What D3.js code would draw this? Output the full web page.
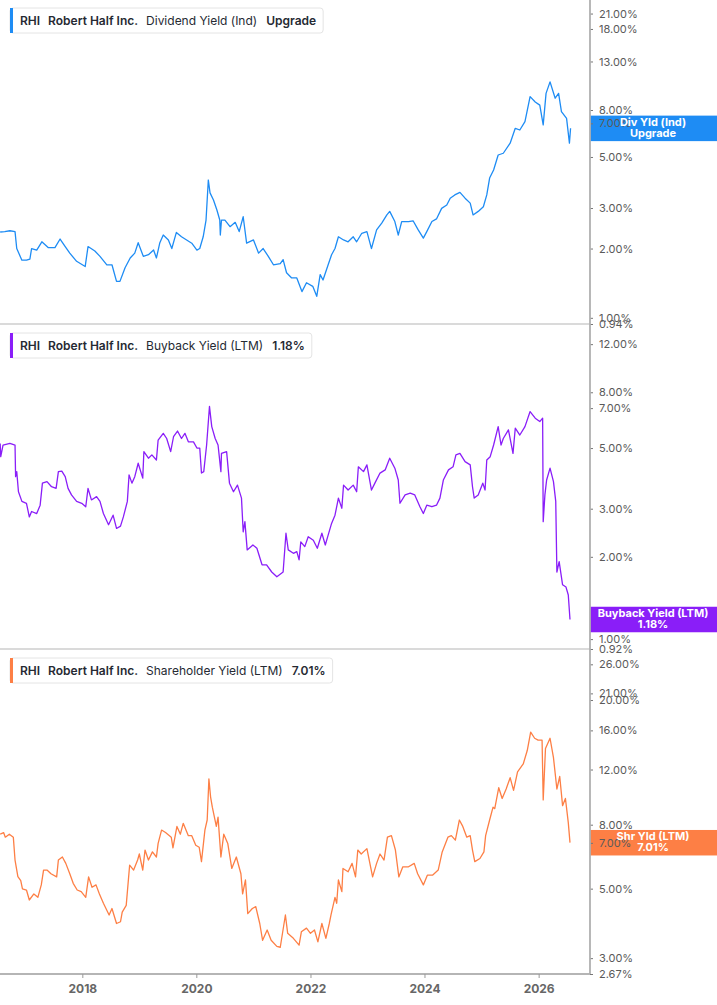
<!DOCTYPE html>
<html lang="en">
<head>
<meta charset="UTF-8">
<title>RHI yields</title>
<script src="https://d3js.org/d3.v7.min.js"></script>
<style>
  body { margin: 0; background: #fff; }
  text { font-family: Inter, "Noto Sans", sans-serif; }
</style>
</head>
<body>
<script>
const width = 717, height = 1005;
const axisX = 590;

const ticker = "RHI";
const company = "Robert Half Inc.";

// dividend yield (indicated), % — dates as decimal years
const divYears = [2016.56,2016.64,2016.73,2016.82,2016.85,2016.94,2017.02,2017.08,2017.11,2017.20,2017.29,2017.40,2017.52,2017.61,2017.70,2017.78,2017.90,2018.05,2018.10,2018.22,2018.31,2018.43,2018.52,2018.60,2018.66,2018.75,2018.84,2018.92,2018.98,2019.07,2019.16,2019.25,2019.30,2019.36,2019.42,2019.51,2019.57,2019.65,2019.74,2019.83,2019.92,2020.01,2020.06,2020.12,2020.17,2020.21,2020.24,2020.30,2020.36,2020.41,2020.42,2020.44,2020.50,2020.59,2020.68,2020.75,2020.82,2020.88,2021.00,2021.09,2021.17,2021.26,2021.35,2021.47,2021.52,2021.58,2021.67,2021.76,2021.85,2021.93,2022.04,2022.11,2022.17,2022.22,2022.31,2022.37,2022.43,2022.49,2022.58,2022.66,2022.75,2022.81,2022.90,2022.99,2023.07,2023.16,2023.25,2023.34,2023.39,2023.48,2023.54,2023.60,2023.72,2023.80,2023.89,2023.98,2024.04,2024.13,2024.21,2024.30,2024.39,2024.45,2024.53,2024.62,2024.71,2024.80,2024.85,2024.94,2025.03,2025.09,2025.14,2025.21,2025.29,2025.38,2025.50,2025.59,2025.67,2025.76,2025.85,2025.94,2026.02,2026.08,2026.13,2026.20,2026.29,2026.35,2026.40,2026.49,2026.54,2026.56];
const divValues = [2.36,2.37,2.39,2.37,2.0,1.78,1.78,1.80,2.0,1.97,2.14,2.02,2.02,2.2,2.04,1.91,1.76,1.67,2.04,1.95,1.85,1.70,1.70,1.44,1.44,1.65,1.82,1.91,2.12,1.85,1.88,1.97,1.82,2.12,2.29,2.18,2.0,2.35,2.25,2.18,2.11,1.97,2.0,2.25,2.66,3.97,3.49,3.25,2.94,2.66,2.29,2.66,2.66,2.49,2.6,2.37,2.75,2.11,2.18,1.91,2.0,1.85,1.70,1.72,1.79,1.57,1.49,1.49,1.30,1.42,1.37,1.24,1.54,1.46,1.70,1.88,2.0,2.25,2.18,2.14,2.25,2.14,2.33,2.37,2.0,2.41,2.58,2.80,2.90,2.62,2.29,2.62,2.62,2.64,2.41,2.22,2.37,2.62,2.69,2.99,3.09,3.31,3.42,3.51,3.31,3.15,2.80,2.90,3.04,3.42,4.05,4.39,5.10,5.19,5.74,6.66,6.55,7.12,9.15,8.67,8.4,6.89,9.45,10.6,9.0,9.45,7.87,7.36,5.74,6.66];
const divTicks = [0.94,1,2,3,5,7,8,13,18,21];

// buyback yield (LTM), %
const buyYears = [2016.56,2016.57,2016.61,2016.73,2016.82,2016.83,2016.85,2016.88,2016.94,2017.02,2017.07,2017.11,2017.20,2017.26,2017.30,2017.38,2017.46,2017.54,2017.58,2017.64,2017.70,2017.75,2017.81,2017.90,2017.99,2018.06,2018.10,2018.16,2018.25,2018.31,2018.37,2018.46,2018.54,2018.60,2018.67,2018.72,2018.79,2018.82,2018.87,2018.92,2018.98,2019.06,2019.08,2019.16,2019.22,2019.30,2019.33,2019.42,2019.48,2019.55,2019.60,2019.67,2019.74,2019.80,2019.86,2019.95,2020.01,2020.06,2020.09,2020.13,2020.18,2020.23,2020.27,2020.33,2020.38,2020.43,2020.44,2020.53,2020.58,2020.65,2020.72,2020.79,2020.82,2020.85,2020.89,2020.99,2021.06,2021.15,2021.23,2021.32,2021.41,2021.52,2021.57,2021.61,2021.70,2021.76,2021.80,2021.83,2021.90,2021.96,2022.05,2022.12,2022.20,2022.26,2022.31,2022.37,2022.43,2022.49,2022.55,2022.58,2022.66,2022.75,2022.81,2022.84,2022.93,2022.99,2023.07,2023.13,2023.22,2023.31,2023.39,2023.48,2023.54,2023.57,2023.66,2023.75,2023.83,2023.92,2023.98,2024.04,2024.13,2024.21,2024.27,2024.33,2024.42,2024.50,2024.55,2024.62,2024.71,2024.80,2024.84,2024.87,2024.94,2025.02,2025.06,2025.09,2025.15,2025.21,2025.29,2025.34,2025.38,2025.47,2025.55,2025.59,2025.67,2025.76,2025.85,2025.94,2026.02,2026.07,2026.08,2026.11,2026.14,2026.20,2026.26,2026.30,2026.32,2026.36,2026.42,2026.48,2026.52,2026.55];
const buyValues = [5.2,4.65,5.13,5.2,5.13,3.93,4.1,3.46,3.19,3.14,2.80,2.93,2.88,3.09,3.72,3.77,3.61,3.56,4.1,4.12,3.93,3.56,3.37,3.19,3.14,3.05,3.56,3.23,3.32,3.19,2.88,2.62,2.84,2.54,2.59,2.80,3.19,3.99,3.72,3.93,4.40,3.88,4.85,4.59,4.72,4.52,5.35,5.66,5.42,4.85,5.50,5.77,5.42,5.66,5.27,5.27,5.0,5.0,4.05,4.1,5.13,7.1,5.99,5.42,5.13,4.1,4.78,4.85,3.72,3.46,3.66,3.28,2.47,2.69,2.12,2.21,2.15,1.87,1.87,1.76,1.69,1.76,2.44,2.12,2.06,2.09,1.95,2.27,2.18,2.37,2.30,2.15,2.44,2.21,2.40,2.65,2.84,3.28,3.01,3.66,3.51,3.66,3.46,4.27,4.10,4.34,3.51,3.72,4.05,4.16,4.59,4.22,3.82,3.14,3.37,3.42,3.37,3.05,2.88,3.09,3.05,3.09,3.28,3.82,4.16,4.27,4.72,4.78,4.46,4.34,3.61,3.28,3.37,3.72,3.51,4.52,4.65,5.13,5.99,5.13,5.42,5.83,4.78,5.91,5.58,5.99,6.8,6.43,6.25,6.43,2.69,3.37,3.82,4.22,3.77,3.19,1.76,1.92,1.58,1.55,1.45,1.18];
const buyTicks = [0.92,1,2,3,5,7,8,12];

// shareholder yield (LTM), %
const shrYears = [2016.56,2016.62,2016.65,2016.72,2016.79,2016.82,2016.87,2016.92,2016.95,2017.02,2017.07,2017.15,2017.22,2017.28,2017.32,2017.38,2017.45,2017.55,2017.58,2017.65,2017.71,2017.78,2017.84,2017.91,2017.98,2018.06,2018.11,2018.17,2018.24,2018.30,2018.37,2018.47,2018.52,2018.60,2018.67,2018.70,2018.77,2018.83,2018.90,2018.97,2019.00,2019.06,2019.10,2019.16,2019.23,2019.30,2019.33,2019.39,2019.46,2019.56,2019.59,2019.66,2019.72,2019.77,2019.86,2019.92,2019.99,2020.05,2020.09,2020.15,2020.19,2020.22,2020.25,2020.28,2020.35,2020.38,2020.43,2020.48,2020.55,2020.62,2020.70,2020.78,2020.81,2020.86,2020.90,2020.98,2021.04,2021.11,2021.16,2021.24,2021.31,2021.41,2021.47,2021.56,2021.60,2021.70,2021.80,2021.84,2021.93,2022.00,2022.07,2022.13,2022.20,2022.27,2022.33,2022.36,2022.43,2022.46,2022.49,2022.55,2022.57,2022.66,2022.73,2022.79,2022.83,2022.89,2022.99,2023.09,2023.16,2023.22,2023.29,2023.35,2023.42,2023.49,2023.55,2023.62,2023.72,2023.82,2023.88,2023.98,2024.05,2024.14,2024.24,2024.31,2024.41,2024.47,2024.54,2024.61,2024.67,2024.74,2024.80,2024.84,2024.88,2024.97,2025.04,2025.07,2025.14,2025.20,2025.23,2025.30,2025.36,2025.43,2025.50,2025.56,2025.63,2025.73,2025.80,2025.86,2025.93,2025.99,2026.06,2026.08,2026.12,2026.20,2026.26,2026.32,2026.37,2026.42,2026.47,2026.52,2026.55];
const shrValues = [7.46,7.55,7.3,7.46,7.3,6.17,5.46,5.3,4.99,4.95,4.60,4.81,4.69,5.14,5.73,5.73,5.58,5.45,6.17,6.31,6.02,5.58,5.20,4.95,4.89,4.69,5.45,5.05,5.14,4.81,4.49,4.12,4.32,3.87,3.92,4.21,4.42,5.94,5.73,6.17,6.45,5.73,6.64,6.17,6.55,6.31,6.97,7.69,7.55,7.30,6.75,7.90,7.46,8.08,7.38,7.38,6.88,6.78,6.1,7.69,8.28,11.2,9.8,9.1,7.9,8.46,6.31,7.46,6.97,5.80,6.31,5.58,4.81,5.33,4.16,4.32,4.38,3.87,3.42,3.69,3.42,3.27,3.25,4.12,3.60,3.47,3.30,3.64,3.74,3.60,3.69,3.38,3.87,3.47,3.87,4.12,4.69,4.49,5.33,4.89,5.80,5.66,6.02,5.45,6.64,6.45,6.71,5.45,6.02,6.45,6.17,7.30,7.38,6.64,5.45,5.87,5.87,6.02,5.58,5.14,5.52,5.52,5.73,6.55,7.30,7.38,7.14,8.28,7.90,7.30,7.38,6.64,6.10,6.24,6.55,7.38,8.28,9.1,9.0,10.5,9.7,10.4,11.3,10.3,11.8,12.5,13.8,15.8,15.1,14.9,14.9,9.6,14.0,15.1,13.1,10.4,11.4,9.2,9.7,8.12,7.01];
const shrTicks = [2.67,3,5,7,8,12,16,20,21,26];

const panels = [
  { years: divYears, values: divValues, ticks: divTicks, color: "#1e8cf4",
    top: 0, bottom: 324, domain: [0.94, 24.05], legendY: 8,
    name: "Dividend Yield (Ind)", value: "Upgrade", badge: ["Div Yld (Ind)", "Upgrade"] },
  { years: buyYears, values: buyValues, ticks: buyTicks, color: "#8a1ef8",
    top: 325, bottom: 649, domain: [0.92, 14.1], legendY: 333,
    name: "Buyback Yield (LTM)", value: "1.18%", badge: ["Buyback Yield (LTM)", "1.18%"] },
  { years: shrYears, values: shrValues, ticks: shrTicks, color: "#fd7f45",
    top: 649, bottom: 974, domain: [2.67, 29.1], legendY: 658,
    name: "Shareholder Yield (LTM)", value: "7.01%", badge: ["Shr Yld (LTM)", "7.01%"] }
];

const toDate = yr => {
  const y = Math.floor(yr);
  const s = new Date(y, 0, 1).getTime(), e = new Date(y + 1, 0, 1).getTime();
  return new Date(s + (yr - y) * (e - s));
};

const svg = d3.select("body").append("svg").attr("width", width).attr("height", height);

const x = d3.scaleTime()
  .domain([toDate(2016.557), toDate(2026.901)])
  .range([0, axisX]);

panels.forEach(p => {
  const y = d3.scaleLog().domain(p.domain).range([p.bottom, p.top]);
  const data = p.years.map((t, i) => ({ date: toDate(t), v: p.values[i] }));

  // bottom rule of the panel
  svg.append("line")
    .attr("x1", 0).attr("x2", axisX)
    .attr("y1", p.bottom).attr("y2", p.bottom)
    .attr("stroke", "#b5b5b5").attr("stroke-width", p.bottom === 974 ? 1.8 : 1);

  svg.append("path")
    .datum(data)
    .attr("fill", "none")
    .attr("stroke", p.color)
    .attr("stroke-width", 1.3)
    .attr("stroke-linejoin", "round")
    .attr("d", d3.line().x(d => x(d.date)).y(d => y(d.v)));

  // last value badge
  const cy = y(data[data.length - 1].v);
  svg.append("rect")
    .attr("x", axisX).attr("y", cy - 12.7)
    .attr("width", width - axisX).attr("height", 25.5)
    .attr("fill", p.color);

  const ax = svg.append("g")
    .attr("transform", `translate(${axisX},0)`)
    .call(d3.axisRight(y).tickValues(p.ticks).tickFormat(d => d.toFixed(2) + "%").tickSize(3).tickPadding(6));
  ax.select(".domain").remove();
  ax.selectAll("line").attr("stroke", "#777");
  ax.selectAll("text").attr("fill", "#5a5a5a").style("font-size", "11px").style("font-family", "Inter, sans-serif");

  p.badge.forEach((t, i) => {
    svg.append("text")
      .attr("x", 653).attr("y", cy - 5.3 + i * 10.8)
      .attr("text-anchor", "middle").attr("dominant-baseline", "middle")
      .attr("fill", "#fff").style("font-size", "11px").style("font-weight", 700)
      .text(t);
  });

  // legend
  const lg = svg.append("g").attr("transform", `translate(10,${p.legendY})`);
  const box = lg.append("rect").attr("x", 0).attr("y", 0).attr("height", 25).attr("rx", 3)
    .attr("fill", "#fff").attr("stroke", "#e4e4e4");
  lg.append("rect").attr("x", 0).attr("y", 0).attr("width", 3).attr("height", 25).attr("fill", p.color);
  const parts = [
    { t: ticker, w: 600, gap: 8 },
    { t: company, w: 600, gap: 8 },
    { t: p.name, w: 400, gap: 9 },
    { t: p.value, w: 600, gap: 0 }
  ];
  let tx = 10;
  parts.forEach(part => {
    const el = lg.append("text").attr("x", tx).attr("y", 17)
      .attr("fill", "#262a33").style("font-size", "12px").style("font-weight", part.w)
      .text(part.t);
    tx += el.node().getComputedTextLength() + part.gap;
  });
  box.attr("width", tx + 7);
});

// right axis line
svg.append("line")
  .attr("x1", axisX).attr("x2", axisX).attr("y1", 0).attr("y2", 974)
  .attr("stroke", "#b0b0b0").attr("stroke-width", 1.8);

// x axis
const xa = svg.append("g")
  .attr("transform", "translate(0,974)")
  .call(d3.axisBottom(x).ticks(d3.timeYear.every(2)).tickFormat(d3.timeFormat("%Y")).tickSize(4).tickPadding(6));
xa.select(".domain").remove();
xa.selectAll("line").attr("stroke", "#999");
xa.selectAll("text").attr("fill", "#666").style("font-size", "12px").style("font-weight", 700).style("font-family", "Inter, sans-serif");
</script>
</body>
</html>
